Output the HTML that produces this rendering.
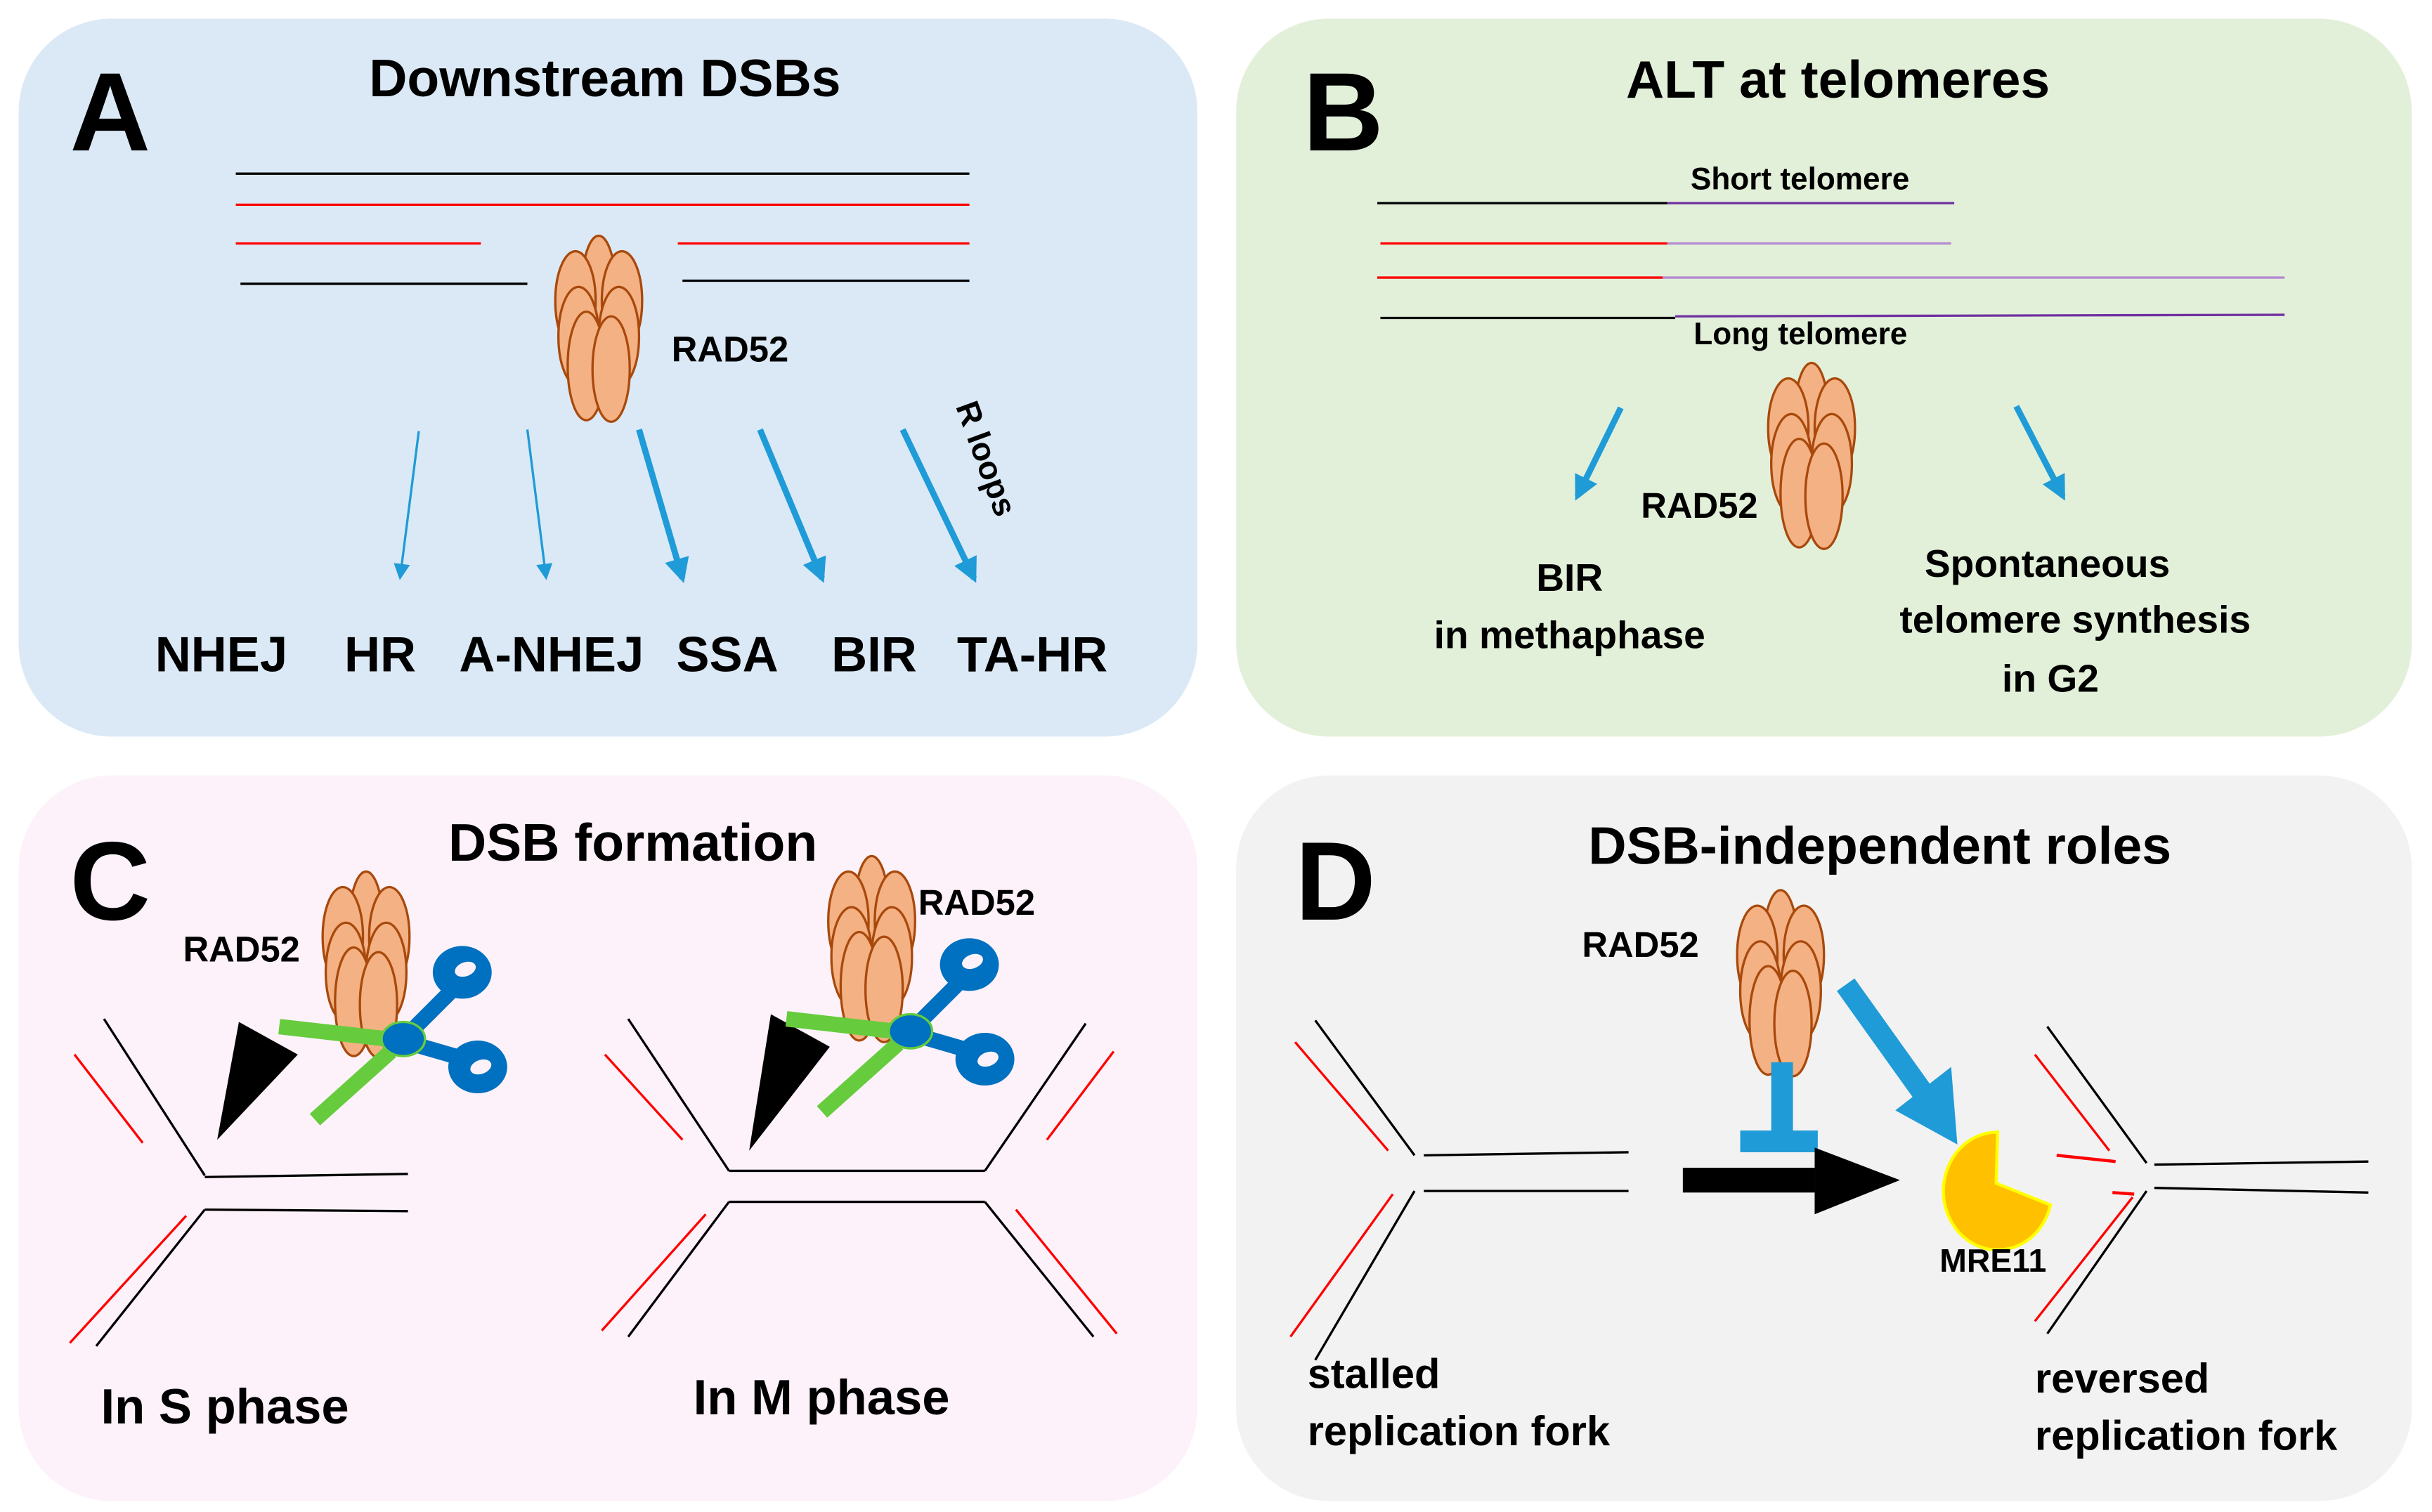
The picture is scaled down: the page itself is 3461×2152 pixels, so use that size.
<!DOCTYPE html>
<html><head><meta charset="utf-8"><style>
html,body{margin:0;padding:0;background:#fff;}
svg{display:block;}
text{font-family:"Liberation Sans",sans-serif;font-weight:bold;fill:#000;}
</style></head><body>
<svg width="3461" height="2152" viewBox="0 0 1568 975" xmlns="http://www.w3.org/2000/svg">
<defs>
<g id="rad">
<g fill="#f4b183" stroke="#a8490c" stroke-width="1.5">
<ellipse cx="0" cy="-25" rx="11" ry="35"/>
<ellipse cx="-15" cy="-18" rx="13" ry="32"/>
<ellipse cx="15" cy="-18" rx="13" ry="32"/>
<ellipse cx="-13" cy="5" rx="13" ry="32"/>
<ellipse cx="13" cy="5" rx="13" ry="32"/>
<ellipse cx="-8" cy="24" rx="12" ry="35"/>
<ellipse cx="8" cy="26" rx="12" ry="34"/>
</g>
</g>
<g id="sc">
<line x1="180" y1="662" x2="250" y2="670" stroke="#66cc3d" stroke-width="10"/>
<line x1="203" y1="722" x2="252" y2="678" stroke="#66cc3d" stroke-width="10"/>
<line x1="262" y1="668" x2="294" y2="636" stroke="#0070c0" stroke-width="10"/>
<line x1="262" y1="672" x2="300" y2="683" stroke="#0070c0" stroke-width="10"/>
<ellipse cx="260" cy="670" rx="14" ry="11" fill="#0070c0" stroke="#66cc3d" stroke-width="1.5"/>
<ellipse cx="298" cy="627" rx="19" ry="17" fill="#0070c0"/>
<ellipse cx="300" cy="625" rx="7" ry="4.5" fill="#fdf2fa" transform="rotate(-20 300 625)"/>
<ellipse cx="308" cy="688" rx="19" ry="17" fill="#0070c0"/>
<ellipse cx="310" cy="688" rx="7" ry="4.5" fill="#fdf2fa" transform="rotate(-20 310 688)"/>
</g>
<marker id="ah" viewBox="0 0 10 10" refX="8" refY="5" markerWidth="4" markerHeight="4" orient="auto"><path d="M0,0L10,5L0,10z" fill="#1f9bd7"/></marker>
<marker id="aht" viewBox="0 0 10 10" refX="8" refY="5" markerWidth="7" markerHeight="7" orient="auto"><path d="M0,0L10,5L0,10z" fill="#1f9bd7"/></marker>
</defs>

<rect x="12" y="12" width="760" height="463" rx="60" fill="#dbe9f6"/>
<rect x="797" y="12" width="758" height="463" rx="60" fill="#e2f0d9"/>
<rect x="12" y="500" width="760" height="468" rx="60" fill="#fdf2fa"/>
<rect x="797" y="500" width="758" height="468" rx="60" fill="#f2f2f2"/>

<!-- A -->
<text x="45" y="97" font-size="72">A</text>
<text x="390" y="62" font-size="34" text-anchor="middle">Downstream DSBs</text>
<g stroke-width="1.5">
<line x1="152" y1="112" x2="625" y2="112" stroke="#000"/>
<line x1="152" y1="132" x2="625" y2="132" stroke="#ff0000"/>
<line x1="152" y1="157" x2="310" y2="157" stroke="#ff0000"/>
<line x1="437" y1="157" x2="625" y2="157" stroke="#ff0000"/>
<line x1="155" y1="183" x2="340" y2="183" stroke="#000"/>
<line x1="440" y1="181" x2="625" y2="181" stroke="#000"/>
</g>
<use href="#rad" transform="translate(386,212)"/>
<text x="433" y="233" font-size="23">RAD52</text>
<g stroke="#1f9bd7">
<line x1="270" y1="278" x2="258" y2="372" stroke-width="1.5" marker-end="url(#aht)"/>
<line x1="340" y1="277" x2="352" y2="372" stroke-width="1.5" marker-end="url(#aht)"/>
<line x1="412" y1="277" x2="440" y2="373" stroke-width="4" marker-end="url(#ah)"/>
<line x1="490" y1="277" x2="530" y2="373" stroke-width="4" marker-end="url(#ah)"/>
<line x1="582" y1="277" x2="628" y2="373" stroke-width="4" marker-end="url(#ah)"/>
</g>
<text x="0" y="0" font-size="21" transform="translate(616,262) rotate(70)">R loops</text>
<g font-size="32">
<text x="100" y="433">NHEJ</text><text x="222" y="433">HR</text><text x="296" y="433">A-NHEJ</text>
<text x="436" y="433">SSA</text><text x="536" y="433">BIR</text><text x="617" y="433">TA-HR</text>
</g>

<!-- B -->
<text x="840" y="97" font-size="72">B</text>
<text x="1185" y="63" font-size="34" text-anchor="middle">ALT at telomeres</text>
<g stroke-width="1.5">
<line x1="888" y1="131" x2="1075" y2="131" stroke="#000"/><line x1="1075" y1="131" x2="1260" y2="131" stroke="#7030a0"/>
<line x1="890" y1="157" x2="1075" y2="157" stroke="#ff0000"/><line x1="1075" y1="157" x2="1258" y2="157" stroke="#b48ad0"/>
<line x1="888" y1="179" x2="1072" y2="179" stroke="#ff0000"/><line x1="1072" y1="179" x2="1473" y2="179" stroke="#b48ad0"/>
<line x1="890" y1="205" x2="1080" y2="205" stroke="#000"/><line x1="1080" y1="204" x2="1473" y2="203" stroke="#7030a0"/>
</g>
<text x="1090" y="122" font-size="20">Short telomere</text>
<text x="1092" y="222" font-size="20">Long telomere</text>
<use href="#rad" transform="translate(1168,294)"/>
<text x="1058" y="334" font-size="23">RAD52</text>
<g stroke="#1f9bd7" stroke-width="4">
<line x1="1045" y1="263" x2="1017" y2="320" marker-end="url(#ah)"/>
<line x1="1300" y1="262" x2="1330" y2="320" marker-end="url(#ah)"/>
</g>
<g font-size="25" text-anchor="middle">
<text x="1012" y="381">BIR</text><text x="1012" y="418">in methaphase</text>
<text x="1320" y="372">Spontaneous</text><text x="1338" y="408">telomere synthesis</text><text x="1322" y="446">in G2</text>
</g>

<!-- C -->
<text x="45" y="593" font-size="72">C</text>
<text x="408" y="555" font-size="34" text-anchor="middle">DSB formation</text>
<g stroke-width="1.5" fill="none">
<line x1="67" y1="657" x2="132" y2="758" stroke="#000"/>
<line x1="48" y1="680" x2="92" y2="737" stroke="#ff0000"/>
<line x1="132" y1="780" x2="62" y2="868" stroke="#000"/>
<line x1="120" y1="784" x2="45" y2="866" stroke="#ff0000"/>
<line x1="132" y1="759" x2="263" y2="757" stroke="#000"/>
<line x1="132" y1="780" x2="263" y2="781" stroke="#000"/>
<line x1="405" y1="657" x2="470" y2="755" stroke="#000"/>
<line x1="390" y1="680" x2="440" y2="735" stroke="#ff0000"/>
<line x1="470" y1="775" x2="405" y2="862" stroke="#000"/>
<line x1="455" y1="783" x2="388" y2="858" stroke="#ff0000"/>
<line x1="470" y1="755" x2="635" y2="755" stroke="#000"/>
<line x1="470" y1="775" x2="635" y2="775" stroke="#000"/>
<line x1="635" y1="755" x2="700" y2="660" stroke="#000"/>
<line x1="675" y1="735" x2="718" y2="678" stroke="#ff0000"/>
<line x1="635" y1="775" x2="705" y2="862" stroke="#000"/>
<line x1="655" y1="780" x2="720" y2="860" stroke="#ff0000"/>
</g>
<use href="#rad" transform="translate(236,622)"/>
<polygon points="154,659 192,680 140,735" fill="#000"/>
<use href="#sc"/>
<text x="118" y="620" font-size="23">RAD52</text>
<use href="#rad" transform="translate(562,612)"/>
<polygon points="497,654 535,675 483,742" fill="#000"/>
<use href="#sc" transform="translate(327,-5)"/>
<text x="592" y="590" font-size="23">RAD52</text>
<text x="65" y="918" font-size="32">In S phase</text>
<text x="447" y="912" font-size="32">In M phase</text>

<!-- D -->
<text x="835" y="593" font-size="72">D</text>
<text x="1212" y="557" font-size="34" text-anchor="middle">DSB-independent roles</text>
<use href="#rad" transform="translate(1148,634)"/>
<text x="1020" y="617" font-size="23">RAD52</text>
<g stroke-width="1.5">
<line x1="848" y1="658" x2="912" y2="745" stroke="#000"/>
<line x1="835" y1="672" x2="895" y2="742" stroke="#ff0000"/>
<line x1="912" y1="768" x2="848" y2="877" stroke="#000"/>
<line x1="898" y1="770" x2="832" y2="862" stroke="#ff0000"/>
<line x1="918" y1="745" x2="1050" y2="743" stroke="#000"/>
<line x1="918" y1="768" x2="1050" y2="768" stroke="#000"/>
<line x1="1320" y1="662" x2="1384" y2="750" stroke="#000"/>
<line x1="1312" y1="680" x2="1360" y2="742" stroke="#ff0000"/>
<line x1="1384" y1="768" x2="1320" y2="860" stroke="#000"/>
<line x1="1375" y1="772" x2="1312" y2="852" stroke="#ff0000"/>
<line x1="1389" y1="751" x2="1527" y2="749" stroke="#000"/>
<line x1="1389" y1="766" x2="1527" y2="769" stroke="#000"/>
<line x1="1326" y1="745" x2="1364" y2="749" stroke="#ff0000" stroke-width="2"/>
<line x1="1362" y1="769" x2="1376" y2="770" stroke="#ff0000" stroke-width="2"/>
</g>
<rect x="1142" y="685" width="14" height="50" fill="#1f9bd7"/>
<rect x="1122" y="729" width="50" height="14" fill="#1f9bd7"/>
<rect x="1085" y="753" width="85" height="16" fill="#000"/>
<polygon points="1170,740 1225,761 1170,783" fill="#000"/>
<line x1="1190" y1="635" x2="1240" y2="705" stroke="#1f9bd7" stroke-width="14"/>
<polygon points="1222,716 1258,688 1262,738" fill="#1f9bd7"/>
<path d="M1287,763 L1288,730 A35,38 0 1 0 1322,777 Z" fill="#ffc000" stroke="#ffff00" stroke-width="2"/>
<text x="1285" y="820" font-size="21" text-anchor="middle">MRE11</text>
<g font-size="27">
<text x="843" y="895">stalled</text><text x="843" y="932">replication fork</text>
<text x="1312" y="898">reversed</text><text x="1312" y="935">replication fork</text>
</g>
</svg>
</body></html>
